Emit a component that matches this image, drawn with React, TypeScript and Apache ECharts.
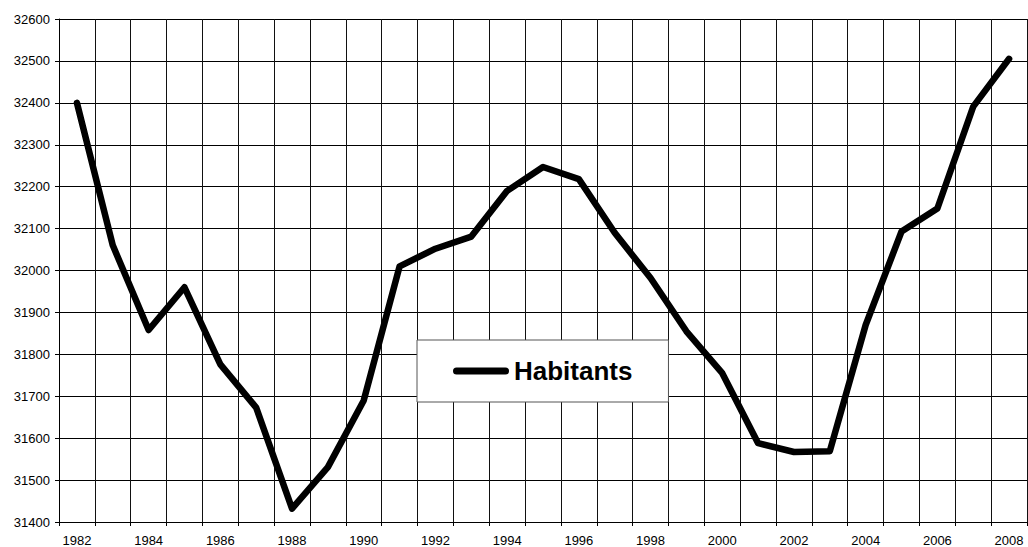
import React, { useEffect, useRef } from "react";
import * as echarts from "echarts";

const years: string[] = [
  "1982", "1983", "1984", "1985", "1986", "1987", "1988", "1989", "1990",
  "1991", "1992", "1993", "1994", "1995", "1996", "1997", "1998", "1999",
  "2000", "2001", "2002", "2003", "2004", "2005", "2006", "2007", "2008",
];

const habitants: number[] = [
  32400, 32060, 31858, 31960, 31776, 31673, 31432, 31531, 31690,
  32010, 32052, 32081, 32190, 32247, 32218, 32090, 31982, 31855,
  31755, 31588, 31567, 31569, 31870, 32093, 32148, 32391, 32505,
];

const seriesName = "Habitants";
const yMin = 31400;
const yMax = 32600;
const yStep = 100;

const FONT = "'Liberation Sans', Arial, sans-serif";

export default function App() {
  const ref = useRef<HTMLDivElement>(null);

  useEffect(() => {
    if (!ref.current) return;
    const chart = echarts.init(ref.current, undefined, { renderer: "svg" });
    chart.setOption({
      animation: false,
      backgroundColor: "#ffffff",
      grid: {
        left: 59,
        top: 19,
        width: 968,
        height: 504,
        containLabel: false,
      },
      legend: {
        show: true,
        data: [seriesName],
        left: 417,
        top: 340,
        orient: "horizontal",
        padding: [18, 36, 18, 36],
        backgroundColor: "#ffffff",
        borderColor: "#555555",
        borderWidth: 1,
        borderRadius: 0,
        itemWidth: 56,
        itemHeight: 7,
        icon: "path://M3.5,0 L52.5,0 A3.5,3.5 0 0 1 52.5,7 L3.5,7 A3.5,3.5 0 0 1 3.5,0 Z",
        itemStyle: { color: "#000000" },
        textStyle: {
          color: "#000000",
          fontSize: 26,
          fontWeight: "bold",
          fontFamily: FONT,
          lineHeight: 26,
        },
      },
      xAxis: {
        type: "category",
        data: years,
        boundaryGap: true,
        axisLine: { show: true, lineStyle: { color: "#000000", width: 1 } },
        axisTick: {
          show: true,
          interval: 0,
          length: 4,
          lineStyle: { color: "#000000", width: 1 },
        },
        splitLine: {
          show: true,
          interval: 0,
          lineStyle: { color: "#111111", width: 1 },
        },
        axisLabel: {
          interval: 1,
          margin: 12,
          color: "#000000",
          fontSize: 13,
          fontFamily: FONT,
        },
      },
      yAxis: {
        type: "value",
        min: yMin,
        max: yMax,
        interval: yStep,
        axisLine: { show: true, lineStyle: { color: "#000000", width: 1 } },
        axisTick: {
          show: true,
          length: 4,
          lineStyle: { color: "#000000", width: 1 },
        },
        splitLine: {
          show: true,
          lineStyle: { color: "#000000", width: 1 },
        },
        axisLabel: {
          margin: 9,
          color: "#000000",
          fontSize: 13,
          fontFamily: FONT,
          formatter: (v: number) => String(v),
        },
      },
      series: [
        {
          name: seriesName,
          type: "line",
          data: habitants,
          symbol: "none",
          smooth: false,
          itemStyle: { color: "#000000" },
          lineStyle: {
            color: "#000000",
            width: 6.5,
            join: "round",
            cap: "round",
          },
          z: 3,
        },
      ],
    });
    return () => {
      chart.dispose();
    };
  }, []);

  return (
    <div
      ref={ref}
      style={{
        position: "absolute",
        left: 0,
        top: 0,
        width: 1028,
        height: 547,
        background: "#ffffff",
      }}
    />
  );
}
